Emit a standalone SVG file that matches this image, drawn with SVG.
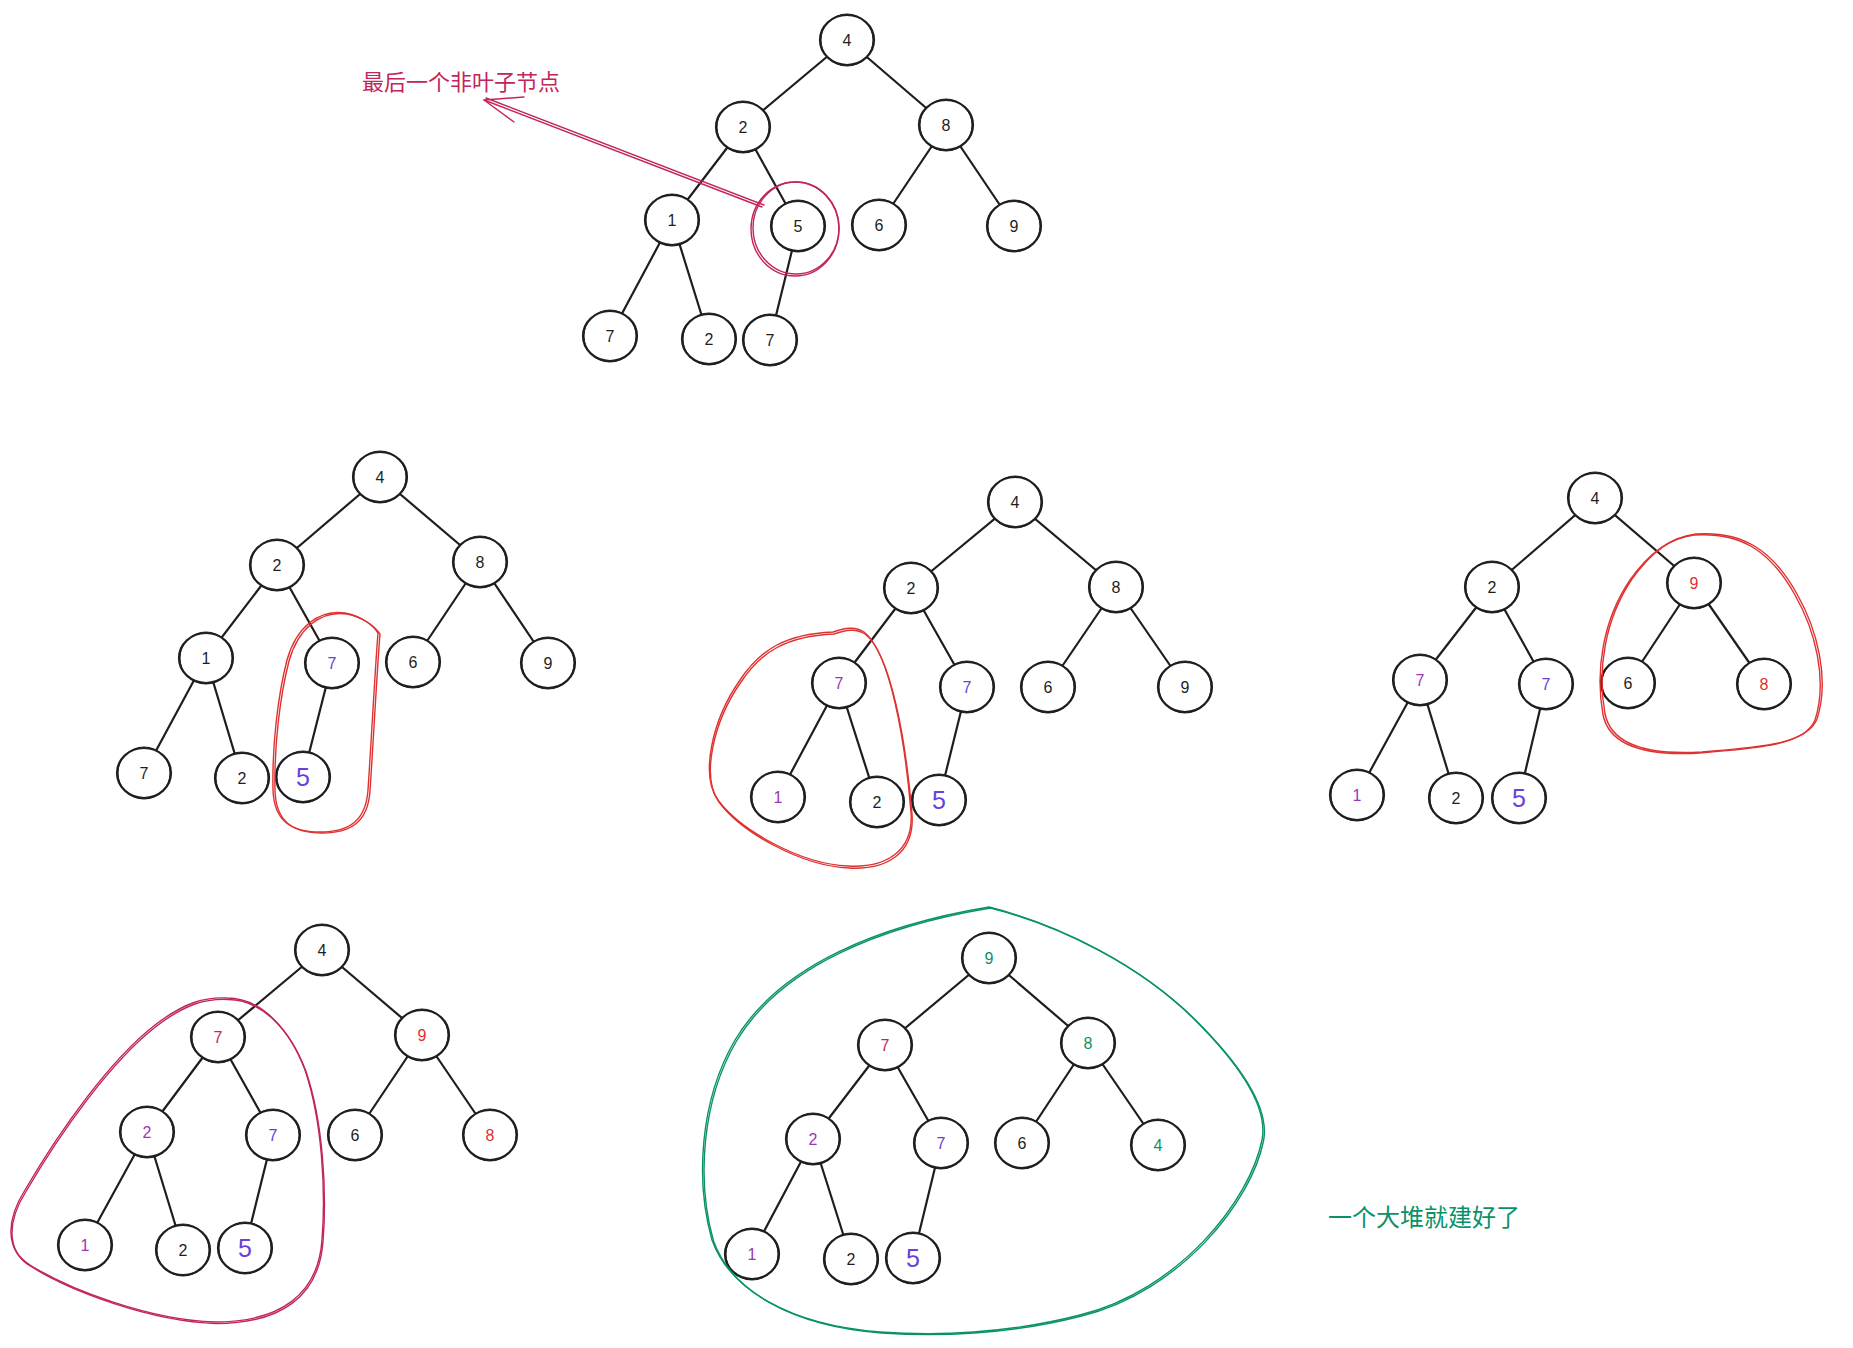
<svg xmlns="http://www.w3.org/2000/svg" width="1853" height="1348" viewBox="0 0 1853 1348">
<style>
.bg{fill:#ffffff}
.e{stroke:#1e1e1e;stroke-width:2.2;stroke-linecap:round;fill:none}
.a{fill:#ffffff;stroke:#1e1e1e;stroke-width:2.2}
.b{fill:none;stroke:#1e1e1e;stroke-width:1}
.d{font-family:"Liberation Sans","DejaVu Sans",sans-serif;font-size:16px;text-anchor:middle;dominant-baseline:central;fill:#1e1e1e}
.big{font-size:25px}
.v{fill:#6741d9}
.g{fill:#9c36b5}
.r{fill:#e03131}
.c{fill:#c2255c}
.gr{fill:#099268}
.o{fill:none;stroke-width:1.4;stroke-linecap:round;stroke-linejoin:round}
.or{stroke:#e03131}
.oc{stroke:#c2255c}
.og{stroke:#099268}
.lbl{font-family:"Noto Sans CJK SC","Noto Sans",sans-serif;font-size:22px;dominant-baseline:central}
</style>
<rect class="bg" x="0" y="0" width="1853" height="1348"/>

<g id="connectors">
<!-- tree 1 -->
<line class="e" x1="847" y1="40" x2="743" y2="127"/><line class="e" x1="847" y1="40" x2="946" y2="125"/>
<line class="e" x1="743" y1="127" x2="672" y2="220"/><line class="e" x1="743" y1="127" x2="798" y2="226"/>
<line class="e" x1="946" y1="125" x2="879" y2="225"/><line class="e" x1="946" y1="125" x2="1014" y2="226"/>
<line class="e" x1="672" y1="220" x2="610" y2="336"/><line class="e" x1="672" y1="220" x2="709" y2="339"/>
<line class="e" x1="798" y1="226" x2="770" y2="340"/>
<!-- tree 2 -->
<line class="e" x1="380" y1="477" x2="277" y2="565"/><line class="e" x1="380" y1="477" x2="480" y2="562"/>
<line class="e" x1="277" y1="565" x2="206" y2="658"/><line class="e" x1="277" y1="565" x2="332" y2="663"/>
<line class="e" x1="480" y1="562" x2="413" y2="662"/><line class="e" x1="480" y1="562" x2="548" y2="663"/>
<line class="e" x1="206" y1="658" x2="144" y2="773"/><line class="e" x1="206" y1="658" x2="242" y2="778"/>
<line class="e" x1="332" y1="663" x2="303" y2="777"/>
<!-- tree 3 -->
<line class="e" x1="1015" y1="502" x2="911" y2="588"/><line class="e" x1="1015" y1="502" x2="1116" y2="587"/>
<line class="e" x1="911" y1="588" x2="839" y2="683"/><line class="e" x1="911" y1="588" x2="967" y2="687"/>
<line class="e" x1="1116" y1="587" x2="1048" y2="687"/><line class="e" x1="1116" y1="587" x2="1185" y2="687"/>
<line class="e" x1="839" y1="683" x2="778" y2="797"/><line class="e" x1="839" y1="683" x2="877" y2="802"/>
<line class="e" x1="967" y1="687" x2="939" y2="800"/>
<!-- tree 4 -->
<line class="e" x1="1595" y1="498" x2="1492" y2="587"/><line class="e" x1="1595" y1="498" x2="1694" y2="583"/>
<line class="e" x1="1492" y1="587" x2="1420" y2="680"/><line class="e" x1="1492" y1="587" x2="1546" y2="684"/>
<line class="e" x1="1694" y1="583" x2="1628" y2="683"/><line class="e" x1="1694" y1="583" x2="1764" y2="684"/>
<line class="e" x1="1420" y1="680" x2="1357" y2="795"/><line class="e" x1="1420" y1="680" x2="1456" y2="798"/>
<line class="e" x1="1546" y1="684" x2="1519" y2="798"/>
<!-- tree 5 -->
<line class="e" x1="322" y1="950" x2="218" y2="1037"/><line class="e" x1="322" y1="950" x2="422" y2="1035"/>
<line class="e" x1="218" y1="1037" x2="147" y2="1132"/><line class="e" x1="218" y1="1037" x2="273" y2="1135"/>
<line class="e" x1="422" y1="1035" x2="355" y2="1135"/><line class="e" x1="422" y1="1035" x2="490" y2="1135"/>
<line class="e" x1="147" y1="1132" x2="85" y2="1245"/><line class="e" x1="147" y1="1132" x2="183" y2="1250"/>
<line class="e" x1="273" y1="1135" x2="245" y2="1248"/>
<!-- tree 6 -->
<line class="e" x1="989" y1="958" x2="885" y2="1045"/><line class="e" x1="989" y1="958" x2="1088" y2="1043"/>
<line class="e" x1="885" y1="1045" x2="813" y2="1139"/><line class="e" x1="885" y1="1045" x2="941" y2="1143"/>
<line class="e" x1="1088" y1="1043" x2="1022" y2="1143"/><line class="e" x1="1088" y1="1043" x2="1158" y2="1145"/>
<line class="e" x1="813" y1="1139" x2="752" y2="1254"/><line class="e" x1="813" y1="1139" x2="851" y2="1259"/>
<line class="e" x1="941" y1="1143" x2="913" y2="1258"/>
<!-- arrow -->
<g id="arrow">
<line class="o oc" x1="762" y1="207" x2="484" y2="100"/>
<line class="o oc" x1="764" y1="205" x2="486" y2="98"/>
<polyline class="o oc" points="524,97 484,100 514,122"/>
</g>
</g>

<g id="tree1">
<g id="t1-n0" transform="translate(847,40)"><ellipse class="a" rx="27" ry="25"/><ellipse class="b" rx="26" ry="26"/><text class="d">4</text></g>
<g id="t1-n1" transform="translate(743,127)"><ellipse class="a" rx="27" ry="25"/><ellipse class="b" rx="26" ry="26"/><text class="d">2</text></g>
<g id="t1-n2" transform="translate(946,125)"><ellipse class="a" rx="27" ry="25"/><ellipse class="b" rx="26" ry="26"/><text class="d">8</text></g>
<g id="t1-n3" transform="translate(672,220)"><ellipse class="a" rx="27" ry="25"/><ellipse class="b" rx="26" ry="26"/><text class="d">1</text></g>
<g id="t1-n4" transform="translate(798,226)"><ellipse class="a" rx="27" ry="25"/><ellipse class="b" rx="26" ry="26"/><text class="d">5</text></g>
<g id="t1-n5" transform="translate(879,225)"><ellipse class="a" rx="27" ry="25"/><ellipse class="b" rx="26" ry="26"/><text class="d">6</text></g>
<g id="t1-n6" transform="translate(1014,226)"><ellipse class="a" rx="27" ry="25"/><ellipse class="b" rx="26" ry="26"/><text class="d">9</text></g>
<g id="t1-n7" transform="translate(610,336)"><ellipse class="a" rx="27" ry="25"/><ellipse class="b" rx="26" ry="26"/><text class="d">7</text></g>
<g id="t1-n8" transform="translate(709,339)"><ellipse class="a" rx="27" ry="25"/><ellipse class="b" rx="26" ry="26"/><text class="d">2</text></g>
<g id="t1-n9" transform="translate(770,340)"><ellipse class="a" rx="27" ry="25"/><ellipse class="b" rx="26" ry="26"/><text class="d">7</text></g>
</g>

<g id="tree2">
<g id="t2-n0" transform="translate(380,477)"><ellipse class="a" rx="27" ry="25"/><ellipse class="b" rx="26" ry="26"/><text class="d">4</text></g>
<g id="t2-n1" transform="translate(277,565)"><ellipse class="a" rx="27" ry="25"/><ellipse class="b" rx="26" ry="26"/><text class="d">2</text></g>
<g id="t2-n2" transform="translate(480,562)"><ellipse class="a" rx="27" ry="25"/><ellipse class="b" rx="26" ry="26"/><text class="d">8</text></g>
<g id="t2-n3" transform="translate(206,658)"><ellipse class="a" rx="27" ry="25"/><ellipse class="b" rx="26" ry="26"/><text class="d">1</text></g>
<g id="t2-n4" transform="translate(332,663)"><ellipse class="a" rx="27" ry="25"/><ellipse class="b" rx="26" ry="26"/><text class="d v">7</text></g>
<g id="t2-n5" transform="translate(413,662)"><ellipse class="a" rx="27" ry="25"/><ellipse class="b" rx="26" ry="26"/><text class="d">6</text></g>
<g id="t2-n6" transform="translate(548,663)"><ellipse class="a" rx="27" ry="25"/><ellipse class="b" rx="26" ry="26"/><text class="d">9</text></g>
<g id="t2-n7" transform="translate(144,773)"><ellipse class="a" rx="27" ry="25"/><ellipse class="b" rx="26" ry="26"/><text class="d">7</text></g>
<g id="t2-n8" transform="translate(242,778)"><ellipse class="a" rx="27" ry="25"/><ellipse class="b" rx="26" ry="26"/><text class="d">2</text></g>
<g id="t2-n9" transform="translate(303,777)"><ellipse class="a" rx="27" ry="25"/><ellipse class="b" rx="26" ry="26"/><text class="d big v">5</text></g>
</g>

<g id="tree3">
<g id="t3-n0" transform="translate(1015,502)"><ellipse class="a" rx="27" ry="25"/><ellipse class="b" rx="26" ry="26"/><text class="d">4</text></g>
<g id="t3-n1" transform="translate(911,588)"><ellipse class="a" rx="27" ry="25"/><ellipse class="b" rx="26" ry="26"/><text class="d">2</text></g>
<g id="t3-n2" transform="translate(1116,587)"><ellipse class="a" rx="27" ry="25"/><ellipse class="b" rx="26" ry="26"/><text class="d">8</text></g>
<g id="t3-n3" transform="translate(839,683)"><ellipse class="a" rx="27" ry="25"/><ellipse class="b" rx="26" ry="26"/><text class="d g">7</text></g>
<g id="t3-n4" transform="translate(967,687)"><ellipse class="a" rx="27" ry="25"/><ellipse class="b" rx="26" ry="26"/><text class="d v">7</text></g>
<g id="t3-n5" transform="translate(1048,687)"><ellipse class="a" rx="27" ry="25"/><ellipse class="b" rx="26" ry="26"/><text class="d">6</text></g>
<g id="t3-n6" transform="translate(1185,687)"><ellipse class="a" rx="27" ry="25"/><ellipse class="b" rx="26" ry="26"/><text class="d">9</text></g>
<g id="t3-n7" transform="translate(778,797)"><ellipse class="a" rx="27" ry="25"/><ellipse class="b" rx="26" ry="26"/><text class="d g">1</text></g>
<g id="t3-n8" transform="translate(877,802)"><ellipse class="a" rx="27" ry="25"/><ellipse class="b" rx="26" ry="26"/><text class="d">2</text></g>
<g id="t3-n9" transform="translate(939,800)"><ellipse class="a" rx="27" ry="25"/><ellipse class="b" rx="26" ry="26"/><text class="d big v">5</text></g>
</g>

<g id="tree4">
<g id="t4-n0" transform="translate(1595,498)"><ellipse class="a" rx="27" ry="25"/><ellipse class="b" rx="26" ry="26"/><text class="d">4</text></g>
<g id="t4-n1" transform="translate(1492,587)"><ellipse class="a" rx="27" ry="25"/><ellipse class="b" rx="26" ry="26"/><text class="d">2</text></g>
<g id="t4-n2" transform="translate(1694,583)"><ellipse class="a" rx="27" ry="25"/><ellipse class="b" rx="26" ry="26"/><text class="d r">9</text></g>
<g id="t4-n3" transform="translate(1420,680)"><ellipse class="a" rx="27" ry="25"/><ellipse class="b" rx="26" ry="26"/><text class="d g">7</text></g>
<g id="t4-n4" transform="translate(1546,684)"><ellipse class="a" rx="27" ry="25"/><ellipse class="b" rx="26" ry="26"/><text class="d v">7</text></g>
<g id="t4-n5" transform="translate(1628,683)"><ellipse class="a" rx="27" ry="25"/><ellipse class="b" rx="26" ry="26"/><text class="d">6</text></g>
<g id="t4-n6" transform="translate(1764,684)"><ellipse class="a" rx="27" ry="25"/><ellipse class="b" rx="26" ry="26"/><text class="d r">8</text></g>
<g id="t4-n7" transform="translate(1357,795)"><ellipse class="a" rx="27" ry="25"/><ellipse class="b" rx="26" ry="26"/><text class="d g">1</text></g>
<g id="t4-n8" transform="translate(1456,798)"><ellipse class="a" rx="27" ry="25"/><ellipse class="b" rx="26" ry="26"/><text class="d">2</text></g>
<g id="t4-n9" transform="translate(1519,798)"><ellipse class="a" rx="27" ry="25"/><ellipse class="b" rx="26" ry="26"/><text class="d big v">5</text></g>
</g>

<g id="tree5">
<g id="t5-n0" transform="translate(322,950)"><ellipse class="a" rx="27" ry="25"/><ellipse class="b" rx="26" ry="26"/><text class="d">4</text></g>
<g id="t5-n1" transform="translate(218,1037)"><ellipse class="a" rx="27" ry="25"/><ellipse class="b" rx="26" ry="26"/><text class="d c">7</text></g>
<g id="t5-n2" transform="translate(422,1035)"><ellipse class="a" rx="27" ry="25"/><ellipse class="b" rx="26" ry="26"/><text class="d r">9</text></g>
<g id="t5-n3" transform="translate(147,1132)"><ellipse class="a" rx="27" ry="25"/><ellipse class="b" rx="26" ry="26"/><text class="d g">2</text></g>
<g id="t5-n4" transform="translate(273,1135)"><ellipse class="a" rx="27" ry="25"/><ellipse class="b" rx="26" ry="26"/><text class="d v">7</text></g>
<g id="t5-n5" transform="translate(355,1135)"><ellipse class="a" rx="27" ry="25"/><ellipse class="b" rx="26" ry="26"/><text class="d">6</text></g>
<g id="t5-n6" transform="translate(490,1135)"><ellipse class="a" rx="27" ry="25"/><ellipse class="b" rx="26" ry="26"/><text class="d r">8</text></g>
<g id="t5-n7" transform="translate(85,1245)"><ellipse class="a" rx="27" ry="25"/><ellipse class="b" rx="26" ry="26"/><text class="d g">1</text></g>
<g id="t5-n8" transform="translate(183,1250)"><ellipse class="a" rx="27" ry="25"/><ellipse class="b" rx="26" ry="26"/><text class="d">2</text></g>
<g id="t5-n9" transform="translate(245,1248)"><ellipse class="a" rx="27" ry="25"/><ellipse class="b" rx="26" ry="26"/><text class="d big v">5</text></g>
</g>

<g id="tree6">
<g id="t6-n0" transform="translate(989,958)"><ellipse class="a" rx="27" ry="25"/><ellipse class="b" rx="26" ry="26"/><text class="d gr">9</text></g>
<g id="t6-n1" transform="translate(885,1045)"><ellipse class="a" rx="27" ry="25"/><ellipse class="b" rx="26" ry="26"/><text class="d c">7</text></g>
<g id="t6-n2" transform="translate(1088,1043)"><ellipse class="a" rx="27" ry="25"/><ellipse class="b" rx="26" ry="26"/><text class="d gr">8</text></g>
<g id="t6-n3" transform="translate(813,1139)"><ellipse class="a" rx="27" ry="25"/><ellipse class="b" rx="26" ry="26"/><text class="d g">2</text></g>
<g id="t6-n4" transform="translate(941,1143)"><ellipse class="a" rx="27" ry="25"/><ellipse class="b" rx="26" ry="26"/><text class="d v">7</text></g>
<g id="t6-n5" transform="translate(1022,1143)"><ellipse class="a" rx="27" ry="25"/><ellipse class="b" rx="26" ry="26"/><text class="d">6</text></g>
<g id="t6-n6" transform="translate(1158,1145)"><ellipse class="a" rx="27" ry="25"/><ellipse class="b" rx="26" ry="26"/><text class="d gr">4</text></g>
<g id="t6-n7" transform="translate(752,1254)"><ellipse class="a" rx="27" ry="25"/><ellipse class="b" rx="26" ry="26"/><text class="d g">1</text></g>
<g id="t6-n8" transform="translate(851,1259)"><ellipse class="a" rx="27" ry="25"/><ellipse class="b" rx="26" ry="26"/><text class="d">2</text></g>
<g id="t6-n9" transform="translate(913,1258)"><ellipse class="a" rx="27" ry="25"/><ellipse class="b" rx="26" ry="26"/><text class="d big v">5</text></g>
</g>

<g id="outlines">
<g id="outline1">
<ellipse class="o oc" cx="795" cy="229" rx="44" ry="47"/>
<ellipse class="o oc" cx="796" cy="228" rx="43" ry="46"/>
</g>
<g id="outline2">
<path class="o or" d="M 378,633 C 372,624 360,616 345,613 C 318,609 296,628 287,660 C 278,695 272,745 273,790 C 274,820 290,832 320,832 C 350,832 366,820 368,790 C 372,730 375,670 378,633 Z"/>
<path class="o or" transform="translate(2,1)" d="M 378,633 C 372,624 360,616 345,613 C 318,609 296,628 287,660 C 278,695 272,745 273,790 C 274,820 290,832 320,832 C 350,832 366,820 368,790 C 372,730 375,670 378,633 Z"/>
</g>
<g id="outline3">
<path class="o or" d="M 833,632 C 845,628 855,626 864,632 C 890,652 905,740 911,812 C 914,852 885,868 848,866 C 800,864 740,830 718,800 C 700,775 712,720 740,680 C 760,650 785,634 833,632 Z"/>
<path class="o or" transform="translate(1,2)" d="M 833,632 C 845,628 855,626 864,632 C 890,652 905,740 911,812 C 914,852 885,868 848,866 C 800,864 740,830 718,800 C 700,775 712,720 740,680 C 760,650 785,634 833,632 Z"/>
</g>
<g id="outline4">
<path class="o or" d="M 1694,535 C 1740,532 1770,550 1795,595 C 1815,630 1828,680 1815,720 C 1805,745 1760,748 1700,753 C 1650,756 1610,748 1603,715 C 1595,670 1603,620 1630,580 C 1650,552 1670,538 1694,535 Z"/>
<path class="o or" transform="translate(2,-1)" d="M 1694,535 C 1740,532 1770,550 1795,595 C 1815,630 1828,680 1815,720 C 1805,745 1760,748 1700,753 C 1650,756 1610,748 1603,715 C 1595,670 1603,620 1630,580 C 1650,552 1670,538 1694,535 Z"/>
</g>
<g id="outline5">
<path class="o oc" d="M 227,998 C 262,998 290,1030 305,1070 C 322,1120 326,1190 322,1240 C 318,1295 280,1322 215,1322 C 150,1320 70,1290 30,1265 C 5,1250 6,1220 25,1190 C 60,1130 110,1060 155,1025 C 185,1002 205,997 227,998 Z"/>
<path class="o oc" transform="translate(1,1.5)" d="M 227,998 C 262,998 290,1030 305,1070 C 322,1120 326,1190 322,1240 C 318,1295 280,1322 215,1322 C 150,1320 70,1290 30,1265 C 5,1250 6,1220 25,1190 C 60,1130 110,1060 155,1025 C 185,1002 205,997 227,998 Z"/>
</g>
<g id="outline6">
<path class="o og" d="M 989,907 C 1060,925 1140,965 1195,1020 C 1245,1070 1268,1110 1262,1140 C 1250,1200 1180,1290 1080,1315 C 1010,1333 940,1336 880,1332 C 790,1325 730,1290 712,1240 C 695,1180 700,1100 735,1040 C 780,965 880,925 989,907 Z"/>
<path class="o og" transform="translate(1.5,1)" d="M 989,907 C 1060,925 1140,965 1195,1020 C 1245,1070 1268,1110 1262,1140 C 1250,1200 1180,1290 1080,1315 C 1010,1333 940,1336 880,1332 C 790,1325 730,1290 712,1240 C 695,1180 700,1100 735,1040 C 780,965 880,925 989,907 Z"/>
</g>
</g>

<g id="labels">
<text id="label1" class="lbl c" x="362" y="80">最后一个非叶子节点</text>
<text id="label2" class="lbl gr" x="1328" y="1215" style="font-size:24px">一个大堆就建好了</text>
</g>
</svg>
